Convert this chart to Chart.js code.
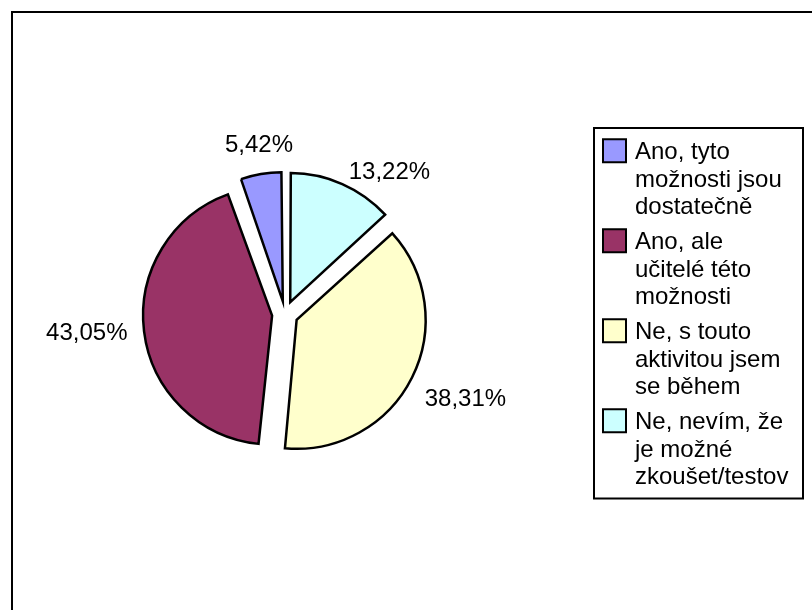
<!DOCTYPE html>
<html>
<head>
<meta charset="utf-8">
<title>Pie chart</title>
<script src="https://cdn.jsdelivr.net/npm/chart.js@4.4.1/dist/chart.umd.min.js"></script>
<style>
  html, body { margin: 0; padding: 0; background: #fff; }
  canvas { display: block; }
</style>
</head>
<body>
<canvas id="pieChart" width="812" height="610"></canvas>
<script>
// Categories in legend order (labels are cut off like in the original sheet)
const categories = [
    'Ano, tyto možnosti jsou dostatečně',
    'Ano, ale učitelé této možnosti',
    'Ne, s touto aktivitou jsem se během',
    'Ne, nevím, že je možné zkoušet/testov'
];
const percentages = [5.42, 43.05, 38.31, 13.22];
const sliceColors = ['#9999FF', '#993366', '#FFFFCC', '#CCFFFF'];

// The original runs counter-clockwise from 12 o'clock, Chart.js runs clockwise
const pieOrder = [3, 2, 1, 0];

const FONT = '24px Arial, "Liberation Sans", sans-serif';
const EXPLODE = 13;   // how far each slice is pulled out
const RADIUS = 129;

// Chart.js grows the radius of an offset arc a bit (depends on arc size),
// pull it back so every slice has the same radius
const explodeFix = {
    id: 'explodeFix',
    afterDatasetUpdate(chart, args) {
        args.meta.data.forEach(arc => {
            const circ = arc.endAngle - arc.startAngle;
            const fix = 1 - Math.sin(Math.min(Math.PI, circ));
            arc.outerRadius = RADIUS - EXPLODE * fix;
        });
    }
};

// White page with the chart frame (right/bottom edge run off the page)
const frame = {
    id: 'frame',
    beforeDraw(chart) {
        const ctx = chart.ctx;
        ctx.save();
        ctx.fillStyle = '#fff';
        ctx.fillRect(0, 0, chart.width, chart.height);
        ctx.strokeStyle = '#000';
        ctx.lineWidth = 2;
        ctx.strokeRect(12, 12, chart.width + 20, chart.height + 20);
        ctx.restore();
    }
};

// Percent labels outside each slice
const sliceLabels = {
    id: 'sliceLabels',
    afterDatasetsDraw(chart, args, opts) {
        const ctx = chart.ctx;
        const meta = chart.getDatasetMeta(0);
        const values = chart.data.datasets[0].data;
        ctx.save();
        ctx.font = FONT;
        ctx.fillStyle = '#000';
        ctx.textAlign = 'center';
        ctx.textBaseline = 'alphabetic';
        meta.data.forEach((arc, i) => {
            const mid = (arc.startAngle + arc.endAngle) / 2;
            const ux = Math.cos(mid), uy = Math.sin(mid);
            const text = values[i].toFixed(2).replace('.', ',') + '%';
            const w = ctx.measureText(text).width;
            const d = RADIUS + EXPLODE + opts.gap;
            const nudge = opts.nudge[i] || [0, 0];
            const cx = arc.x + ux * d + ux * w / 2 + nudge[0];
            const cy = arc.y + uy * d + uy * 10 + nudge[1];
            ctx.fillText(text, cx, cy + 8.5);
        });
        ctx.restore();
    }
};

// Boxed legend on the right with wrapped labels
const boxLegend = {
    id: 'boxLegend',
    afterDraw(chart, args, opts) {
        const ctx = chart.ctx;
        const {left, top, width, pad, lineH, gap, swatch, textX, wrap} = opts;
        ctx.save();
        ctx.font = FONT;
        ctx.textBaseline = 'alphabetic';
        ctx.textAlign = 'left';

        const wrapped = categories.map(label => {
            const lines = [];
            let cur = '';
            label.split(' ').forEach(word => {
                const test = cur ? cur + ' ' + word : word;
                if (cur && ctx.measureText(test).width > wrap) {
                    lines.push(cur);
                    cur = word;
                } else {
                    cur = test;
                }
            });
            lines.push(cur);
            return lines;
        });

        let total = pad * 2;
        wrapped.forEach((lines, i) => { total += lines.length * lineH + (i ? gap : 0); });

        ctx.strokeStyle = '#000';
        ctx.lineWidth = 2;
        ctx.strokeRect(left, top, width, total);

        let y = top + pad;
        wrapped.forEach((lines, i) => {
            const firstMid = y + lineH / 2;
            ctx.fillStyle = sliceColors[i];
            ctx.fillRect(left + 9, firstMid - swatch / 2, swatch, swatch);
            ctx.strokeRect(left + 9, firstMid - swatch / 2, swatch, swatch);
            ctx.fillStyle = '#000';
            lines.forEach((ln, k) => {
                ctx.fillText(ln, left + textX, y + lineH / 2 + k * lineH + 8.5);
            });
            y += lines.length * lineH + gap;
        });
        ctx.restore();
    }
};

const ctx = document.getElementById('pieChart').getContext('2d');
new Chart(ctx, {
    type: 'pie',
    data: {
        labels: pieOrder.map(i => categories[i]),
        datasets: [{
            data: pieOrder.map(i => percentages[i]),
            backgroundColor: pieOrder.map(i => sliceColors[i]),
            borderColor: '#000',
            borderWidth: 2.5,
            borderJoinStyle: 'miter',
            offset: EXPLODE * 4
        }]
    },
    options: {
        responsive: false,
        animation: false,
        radius: RADIUS,
        layout: { padding: { left: 120, right: 362, top: 30, bottom: 12 } },
        plugins: {
            legend: { display: false },
            tooltip: { enabled: false },
            sliceLabels: { gap: 19, nudge: [[23, 13], [0, 7], [2, -3], [7, -2]] },
            boxLegend: {
                left: 594, top: 128, width: 209, pad: 9,
                lineH: 27.5, gap: 7.5, swatch: 23, textX: 41, wrap: 160
            }
        }
    },
    plugins: [frame, explodeFix, sliceLabels, boxLegend]
});
</script>
</body>
</html>
